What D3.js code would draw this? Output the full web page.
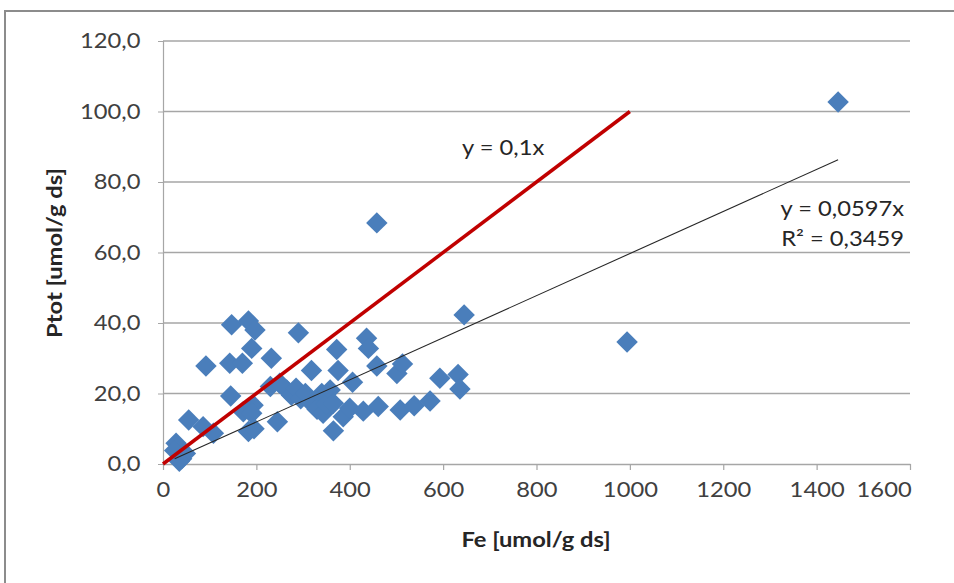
<!DOCTYPE html>
<html>
<head>
<meta charset="utf-8">
<script src="https://cdn.jsdelivr.net/npm/d3@7/dist/d3.min.js"></script>
<style>
  html, body { margin: 0; padding: 0; background: #fff; }
  svg { display: block; font-family: Lato, "Open Sans", sans-serif; }
</style>
</head>
<body>
<svg id="chart" width="954" height="583"></svg>
<script>
// Fe vs Ptot measurements (umol/g ds)
const feValues = [28, 25, 40, 48, 35, 55, 86, 92, 108, 145, 143, 147, 170, 172, 183, 190, 197, 193, 190, 183, 195, 245,
  232, 230, 250, 265, 275, 285, 290, 295, 305, 318, 320, 330, 340, 343, 350, 358, 365, 365, 372, 375, 386, 400, 406,
  429, 436, 440, 458, 458, 461, 501, 508, 513, 538, 572, 593, 632, 636, 645, 994, 1446];
const ptotValues = [5.9, 3.8, 1.5, 3.0, 0.8, 12.5, 10.6, 27.8, 8.7, 19.3, 28.6, 39.5, 28.6, 14.8, 40.6, 32.8, 38.0, 16.7, 14.4, 9.2, 10.0, 12.0,
  30.0, 22.0, 22.9, 21.0, 19.5, 21.5, 37.2, 18.5, 20.0, 26.5, 17.0, 15.5, 20.0, 14.4, 17.0, 21.0, 17.2, 9.4, 32.5, 26.5, 13.4, 15.8, 23.2,
  15.0, 35.7, 32.8, 68.4, 27.8, 16.3, 25.7, 15.3, 28.4, 16.5, 17.9, 24.3, 25.4, 21.3, 42.3, 34.6, 102.7];

const xTicks = [0, 200, 400, 600, 800, 1000, 1200, 1400, 1600];
const yTicks = [0, 20, 40, 60, 80, 100, 120];

// Reference line y = 0.1x and fitted trendline y = 0.0597x
const refSlope = 0.1;
const refRange = [0, 1000];
const fitSlope = 0.0597;
const fitR2 = 0.3459;

const fmt = v => d3.format(".1f")(v).replace(".", ",");
const fmtFit = v => String(v).replace(".", ",");

const svg = d3.select("#chart");
const plotLeft = 163, plotTop = 41, plotRight = 910, plotBottom = 464;
const stretch = "scale(1.13,1)";

const x = d3.scaleLinear().domain([0, 1600]).range([plotLeft, plotRight]);
const y = d3.scaleLinear().domain([0, 120]).range([plotBottom, plotTop]);

// chart frame
svg.append("rect")
  .attr("x", 5).attr("y", 11).attr("width", 960).attr("height", 600)
  .attr("fill", "none").attr("stroke", "#8c8c8c").attr("stroke-width", 2);

// horizontal gridlines
svg.append("g")
  .selectAll("line")
  .data(yTicks.filter(t => t > 0))
  .join("line")
  .attr("x1", plotLeft).attr("x2", plotRight)
  .attr("y1", d => y(d)).attr("y2", d => y(d))
  .attr("stroke", "#a6a6a6").attr("stroke-width", 1.5);

// y axis
const yAxis = svg.append("g")
  .attr("transform", `translate(${plotLeft},0)`)
  .call(d3.axisLeft(y).tickValues(yTicks).tickFormat(fmt).tickSize(5).tickPadding(15));
yAxis.select(".domain").attr("stroke", "#a6a6a6").attr("stroke-width", 1.2);
yAxis.selectAll(".tick line").attr("stroke", "#a6a6a6");
yAxis.selectAll(".tick text").attr("font-size", 21).attr("fill", "#404040")
  .attr("font-family", "Lato, sans-serif").attr("transform", stretch);

// x axis
const xAxis = svg.append("g")
  .attr("transform", `translate(0,${plotBottom})`)
  .call(d3.axisBottom(x).tickValues(xTicks).tickFormat(d3.format("d")).tickSize(6).tickSizeOuter(0).tickPadding(12));
xAxis.select(".domain").attr("stroke", "#a6a6a6").attr("stroke-width", 1.5);
xAxis.selectAll(".tick line").attr("stroke", "#a6a6a6").attr("stroke-width", 1.2);
xAxis.selectAll(".tick text").attr("font-size", 21).attr("fill", "#404040")
  .attr("font-family", "Lato, sans-serif").attr("transform", stretch);
// last label kept inside the plot's right edge
xAxis.selectAll(".tick text").filter(d => d === xTicks[xTicks.length - 1])
  .attr("text-anchor", "end").attr("x", 1);

// data points
const diamond = d3.symbol().type(d3.symbolSquare).size(230);
svg.append("g")
  .selectAll("path")
  .data(feValues.map((v, i) => [v, ptotValues[i]]))
  .join("path")
  .attr("d", diamond)
  .attr("transform", d => `translate(${x(d[0])},${y(d[1])}) rotate(45)`)
  .attr("fill", "#4a7ebb");

// fitted trendline over the data range
const fitX = d3.extent(feValues);
svg.append("line")
  .attr("x1", x(fitX[0])).attr("y1", y(fitSlope * fitX[0]))
  .attr("x2", x(fitX[1])).attr("y2", y(fitSlope * fitX[1]))
  .attr("stroke", "#262626").attr("stroke-width", 1.1);

// reference line
svg.append("line")
  .attr("x1", x(refRange[0])).attr("y1", y(refSlope * refRange[0]))
  .attr("x2", x(refRange[1])).attr("y2", y(refSlope * refRange[1]))
  .attr("stroke", "#c00000").attr("stroke-width", 3.5);

// equation labels
function label(px, py, anchor, str) {
  svg.append("text")
    .attr("transform", `translate(${px},${py}) ${stretch}`)
    .attr("text-anchor", anchor)
    .attr("font-size", 21).attr("fill", "#262626")
    .text(str);
}
label(462, 155, "start", "y = " + fmtFit(refSlope) + "x");
label(904, 216, "end", "y = " + fmtFit(fitSlope) + "x");
label(904, 246, "end", "R² = " + fmtFit(fitR2));

// axis titles
svg.append("text")
  .attr("transform", `translate(536,547) ${stretch}`).attr("text-anchor", "middle")
  .attr("font-size", 21).attr("font-weight", "bold").attr("fill", "#262626")
  .text("Fe [umol/g ds]");
svg.append("text")
  .attr("transform", `translate(62,253) rotate(-90) ${stretch}`)
  .attr("text-anchor", "middle")
  .attr("font-size", 21).attr("font-weight", "bold").attr("fill", "#262626")
  .text("Ptot [umol/g ds]");
</script>
</body>
</html>
